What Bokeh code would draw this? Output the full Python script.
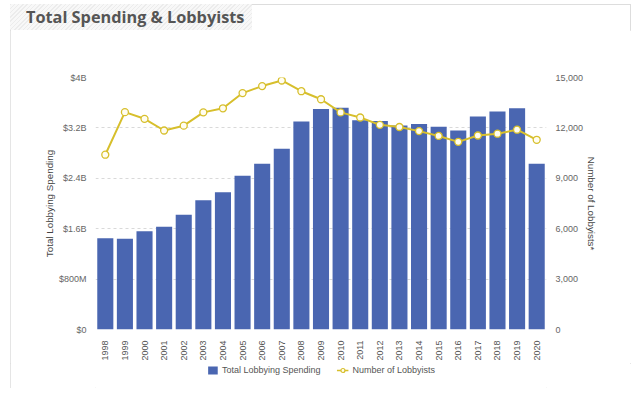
import math
from bokeh.plotting import figure
from bokeh.models import (ColumnDataSource, Range1d, LinearAxis, FixedTicker,
                          NumeralTickFormatter, Legend, LegendItem, Div,
                          InlineStyleSheet)
from bokeh.layouts import column
from bokeh.embed import file_html
from bokeh.resources import INLINE

years = [str(y) for y in range(1998, 2021)]
spending = [1.45e9, 1.44e9, 1.56e9, 1.63e9, 1.82e9, 2.05e9, 2.18e9, 2.44e9,
            2.63e9, 2.87e9, 3.30e9, 3.50e9, 3.52e9, 3.32e9, 3.31e9, 3.24e9,
            3.26e9, 3.22e9, 3.16e9, 3.38e9, 3.46e9, 3.51e9, 2.63e9]
lobbyists = [10404, 12937, 12541, 11845, 12132, 12925, 13168, 14073, 14489,
             14822, 14184, 13706, 12923, 12620, 12183, 12055, 11809, 11522,
             11169, 11547, 11654, 11892, 11293]
left_ticks = [0, 0.8e9, 1.6e9, 2.4e9, 3.2e9, 4.0e9]
left_tick_labels = ["$0", "$800M", "$1.6B", "$2.4B", "$3.2B", "$4B"]
right_ticks = [0, 3000, 6000, 9000, 12000, 15000]

BAR = "#4a66b1"
LINE = "#d7bf2c"
FONT = "Liberation Sans"

src = ColumnDataSource(dict(year=years, spending=spending, lobbyists=lobbyists))

p = figure(x_range=years, y_range=Range1d(0, 4.0e9), width=621, height=333,
           output_backend="svg", toolbar_location=None,
           min_border_left=85, min_border_right=85, min_border_top=47,
           min_border_bottom=31, margin=0)
p.extra_y_ranges = {"lob": Range1d(0, 15000)}
p.outline_line_color = None
p.background_fill_color = "white"
p.border_fill_color = "white"

bars = p.vbar(x="year", top="spending", width=0.82, source=src,
              fill_color=BAR, line_color=None)
ln = p.line(x="year", y="lobbyists", source=src, y_range_name="lob",
            line_color=LINE, line_width=2)
pts = p.scatter(x="year", y="lobbyists", source=src, y_range_name="lob",
                size=7, fill_color="#fffdf0", line_color=LINE, line_width=1.3)

# grid
p.xgrid.grid_line_color = None
p.ygrid.grid_line_color = "#d9d9d9"
p.ygrid.grid_line_dash = "3 3"
p.ygrid.ticker = FixedTicker(ticks=left_ticks)

# left axis
la = p.yaxis[0]
la.ticker = FixedTicker(ticks=left_ticks)
la.major_label_overrides = {t: s for t, s in zip(left_ticks, left_tick_labels)}
la.axis_label = "Total Lobbying Spending"
la.axis_label_text_font = FONT
la.axis_label_text_font_size = "9.8px"
la.axis_label_text_font_style = "normal"
la.axis_label_text_color = "#444444"
la.axis_label_standoff = 1
la.major_label_text_font = FONT
la.major_label_text_font_size = "9px"
la.major_label_text_color = "#666666"
la.major_label_standoff = 3
la.axis_line_color = None
la.major_tick_line_color = None
la.minor_tick_line_color = None

# right axis
ra = LinearAxis(y_range_name="lob", ticker=FixedTicker(ticks=right_ticks),
                formatter=NumeralTickFormatter(format="0,0"))
ra.axis_label = "Number of Lobbyists*"
ra.axis_label_text_font = FONT
ra.axis_label_text_font_size = "9.8px"
ra.axis_label_text_font_style = "normal"
ra.axis_label_text_color = "#444444"
ra.axis_label_standoff = 0
ra.major_label_text_font = FONT
ra.major_label_text_font_size = "9px"
ra.major_label_text_color = "#666666"
ra.major_label_standoff = 3
ra.axis_line_color = None
ra.major_tick_line_color = None
ra.minor_tick_line_color = None
p.add_layout(ra, "right")

# x axis
xa = p.xaxis[0]
xa.major_label_orientation = math.pi / 2
xa.major_label_text_font = FONT
xa.major_label_text_font_size = "9px"
xa.major_label_text_color = "#555555"
xa.major_label_standoff = 5
xa.axis_line_color = None
xa.major_tick_line_color = None
xa.minor_tick_line_color = None

# legend in a small strip below
lf = figure(width=621, height=25, x_range=Range1d(0, 1), y_range=Range1d(0, 1),
            output_backend="svg", toolbar_location=None, margin=0,
            min_border_left=0, min_border_right=0, min_border_top=0,
            min_border_bottom=0)
lf.axis.visible = False
lf.grid.visible = False
lf.outline_line_color = None
lsrc = ColumnDataSource(dict(x=[-10], y=[-10], top=[-10]))
db = lf.vbar(x="x", top="top", width=0.5, source=lsrc, fill_color=BAR, line_color=None)
dl = lf.line(x="x", y="y", source=lsrc, line_color=LINE, line_width=1.5)
ds = lf.scatter(x="x", y="y", source=lsrc, size=6, fill_color="#fffdf0",
                line_color=LINE, line_width=1.2)
legend = Legend(items=[LegendItem(label="Total Lobbying Spending", renderers=[db]),
                       LegendItem(label="Number of Lobbyists", renderers=[dl, ds])],
                orientation="horizontal", location="top_center")
legend.border_line_color = None
legend.background_fill_alpha = 0
legend.label_text_font = FONT
legend.label_text_font_size = "9px"
legend.label_text_color = "#555555"
legend.glyph_width = 12
legend.glyph_height = 10
legend.label_height = 10
legend.label_standoff = 4
legend.spacing = 16
legend.padding = 2
legend.margin = 2
lf.add_layout(legend, "center")

title = Div(text="Total Spending &amp; Lobbyists", width=242, height=26, margin=0,
            styles={"font-family": "Open Sans", "font-weight": "bold",
                    "font-size": "16.3px", "color": "#555555",
                    "padding-left": "16px", "line-height": "26px",
                    "white-space": "nowrap", "box-sizing": "border-box",
                    "background": "repeating-linear-gradient(135deg, #ececec 0px, #ececec 1px, #f8f8f8 1px, #f8f8f8 3px)"})

layout = column(title, p, lf, spacing=0, margin=(4, 0, 0, 10),
                stylesheets=[InlineStyleSheet(css=":host { outline: 1px solid #dddddd; outline-offset: -1px; }")])

open("out.html", "w").write(file_html(layout, INLINE))
